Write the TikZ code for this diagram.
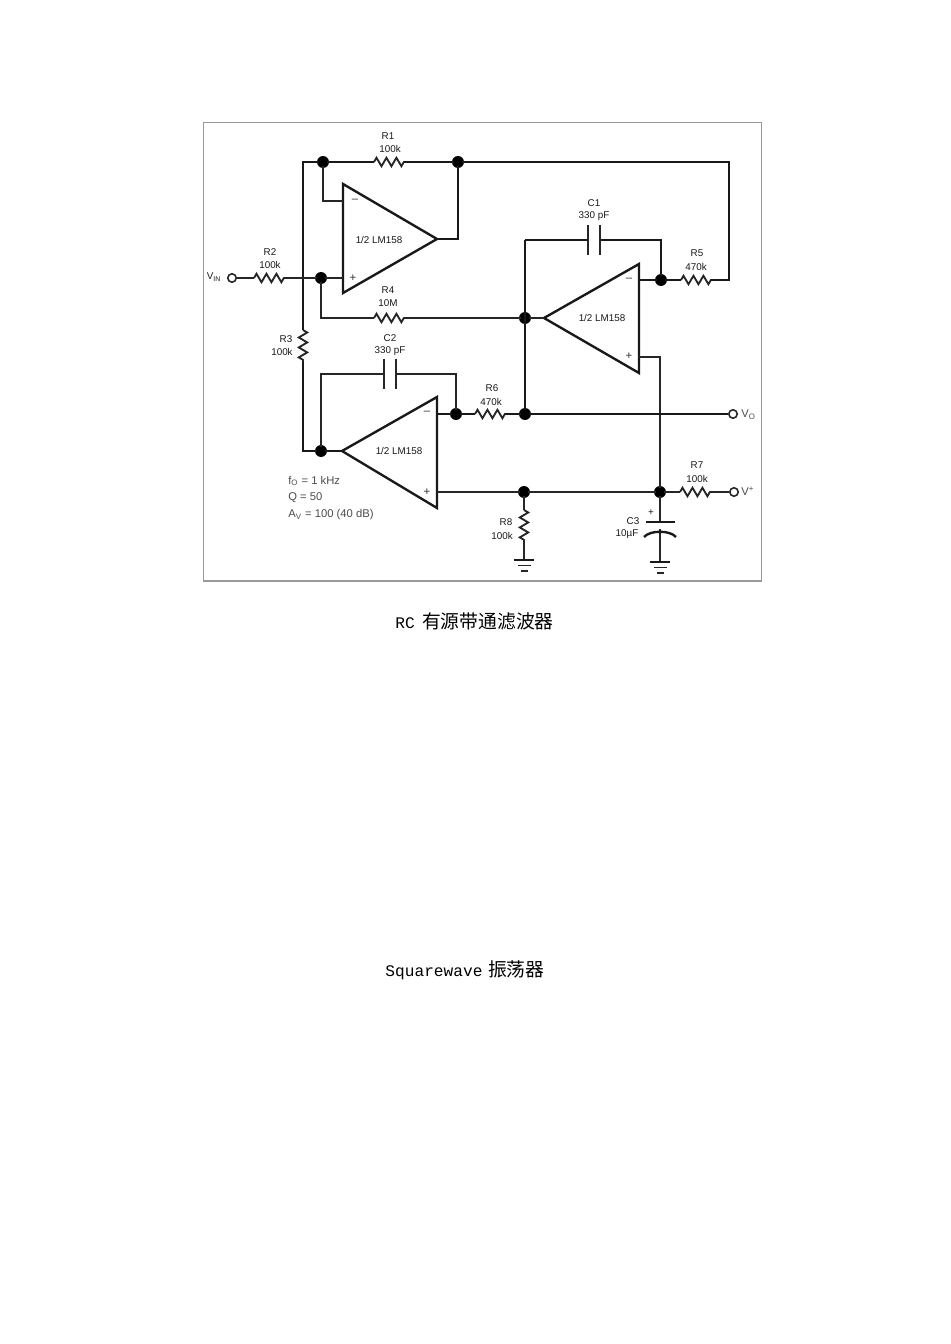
\documentclass[tikz,border=0pt]{standalone}
\usepackage{fontspec}
\setmainfont{Liberation Sans}
\newfontfamily\capfont{Liberation Mono}
\newfontfamily\cjk{Noto Sans CJK SC}
\usetikzlibrary{decorations.pathmorphing}
\tikzset{
  wire/.style={line width=1.05pt,black!85},
  heavy/.style={line width=1.35pt,black!90},
  opamp/.style={line width=1.35pt,black!90,line join=miter},
  res/.style={line width=1.05pt,black!85,decorate,decoration={zigzag,segment length=5.67pt,amplitude=2.4pt}},
  dot/.style={circle,fill=black,inner sep=0pt,outer sep=-1.2pt,minimum size=6.8pt},
  term/.style={circle,draw=black!85,line width=0.9pt,fill=white,inner sep=0pt,minimum size=4.8pt},
  lbl/.style={font=\fontsize{5.6}{6}\selectfont,text=black!90,inner sep=0pt},
  note/.style={font=\fontsize{6.4}{7}\selectfont,text=black!70,inner sep=0pt,anchor=west},
  sign/.style={font=\fontsize{6.5}{7}\selectfont,text=black!80,inner sep=0pt},
}
\begin{document}
\begin{tikzpicture}[x=0.02cm,y=-0.02cm]
\useasboundingbox (0,0) rectangle (950,1344);
\fill[white] (0,0) rectangle (950,1344);
\draw[black!40,line width=0.6pt] (203.5,122.5) rectangle (761.5,581);
% junctions and terminals
\foreach \n/\x/\y in {Ja/323/162,Jb/458/162,Jc/321/278,Jd/525/318,Je/661/280,Jf/321/451,Jg/456/414,Jh/525/414,Ji/524/492,Jj/660/492}
\node[dot] (\n) at (\x,\y) {};
\foreach \n/\x/\y in {Vin/232/278,Vo/733/414,Vp/734/492}
\node[term] (\n) at (\x,\y) {};
% op amp corners, then resistor and capacitor ends
\foreach \n/\x/\y in {Aa/343/184,Ab/343/293,Ac/437/239,Ba/639/264,Bb/639/373,Bc/544/318,Ca/437/397,Cb/437/508,Cc/342/451,
Am/343/201,Ap/343/278,Bm/639/280,Bp/639/357,Cm/437/414,Cp/437/492,
Raa/374/162,Rab/404/162,Rba/254/278,Rbb/284/278,Rca/303/330,Rcb/303/362,Rda/374/318,Rdb/404/318,
Rea/681/280,Reb/711/280,Rfa/475/414,Rfb/505/414,Rga/680/492,Rgb/710/492,Rha/524/510,Rhb/524/542,
Pa/588/240,Pb/600/240,Qa/384/374,Qb/396/374,Ta/303/162,Tb/303/451,Tc/729/162,Td/729/280,Te/525/240,Tf/661/240,
Tg/321/374,Th/456/374,Ti/458/239,Tj/660/357,Tk/321/318,Tl/323/201,Gb/524/560,Gc/660/562,Sa/660/522,Sb/660/529}
\coordinate (\n) at (\x,\y);
% op amps
\draw[opamp] (Aa) -- (Ab) -- (Ac) -- cycle;
\draw[opamp] (Ba) -- (Bb) -- (Bc) -- cycle;
\draw[opamp] (Ca) -- (Cb) -- (Cc) -- cycle;
% resistors
\foreach \a/\b in {Raa/Rab,Rba/Rbb,Rca/Rcb,Rda/Rdb,Rea/Reb,Rfa/Rfb,Rga/Rgb,Rha/Rhb}
\draw[res] (\a) -- (\b);
% wiring
\draw[heavy] (Rca) -- (Ta) -- (Ja) -- (Raa);
\draw[heavy] (Rab) -- (Jb) -- (Tc) -- (Td) -- (Reb);
\draw[wire] (Ja) -- (Tl) -- (Am);
\draw[heavy] (Jb) -- (Ti) -- (Ac);
\draw[wire] (Vin) -- (Rba);
\draw[wire] (Rbb) -- (Jc) -- (Ap);
\draw[wire] (Jc) -- (Tk) -- (Rda);
\draw[wire] (Rdb) -- (Jd) -- (Bc);
\draw[heavy] (Te) -- (Jh);
\draw[heavy] (Te) -- (Pa);
\draw[heavy] (Pb) -- (Tf) -- (Je);
\draw[heavy] (Bm) -- (Je) -- (Rea);
\draw[wire] (Bp) -- (Tj) -- (Jj);
\draw[heavy] (Rcb) -- (Tb) -- (Jf) -- (Cc);
\draw[wire] (Jf) -- (Tg) -- (Qa);
\draw[wire] (Qb) -- (Th) -- (Jg);
\draw[heavy] (Cm) -- (Jg) -- (Rfa);
\draw[heavy] (Rfb) -- (Jh) -- (Vo);
\draw[wire] (Cp) -- (Ji) -- (Jj) -- (Rga);
\draw[wire] (Rgb) -- (Vp);
\draw[wire] (Ji) -- (Rha);
\draw[wire] (Rhb) -- (Gb);
\draw[wire] (Jj) -- (Sa);
\draw[wire] (Sb) -- (Gc);
% capacitor plates
\foreach \a in {Pa,Pb,Qa,Qb}
\draw[wire] ([yshift=0.31cm]\a) -- ([yshift=-0.31cm]\a);
\draw[heavy] (646,522) -- (675,522);
\draw[heavy] (644,537) .. controls (650,530) and (670,530) .. (676,537);
% grounds
\foreach \g in {Gb,Gc}{
\draw[heavy] ([xshift=-0.2cm]\g) -- ([xshift=0.2cm]\g);
\draw[wire] ([xshift=-0.13cm,yshift=-0.11cm]\g) -- ([xshift=0.13cm,yshift=-0.11cm]\g);
\draw[wire] ([xshift=-0.07cm,yshift=-0.22cm]\g) -- ([xshift=0.07cm,yshift=-0.22cm]\g);
}
% labels
\foreach \n/\x/\y/\t in {la/388/136/R1,lb/390/149/100k,lc/270/252/R2,ld/270/265/100k,le/388/290/R4,lf/388/303/10M,
lg/286/339/R3,lh/282/352/100k,li/390/338/C2,lj/390/351/330 pF,lk/594/203/C1,ll/594/216/330 pF,lm/697/253/R5,ln/696/267/470k,
lo/492/388/R6,lp/491/402/470k,lq/697/465/R7,lr/697/479/100k,ls/506/522/R8,lt/502/536/100k,lu/633/521/C3,lv/627/534/10µF}
\node[lbl] (\n) at (\x,\y) {\t};
\foreach \n/\x/\y in {oa/379/240,ob/602/318,oc/399/451}
\node[lbl] (\n) at (\x,\y) {1/2 LM158};
\foreach \n/\x/\y/\t in {sa/355/201/--,sb/353/278/+,sc/629/280/--,sd/629/356/+,se/427/413/--,sf/427/492/+}
\node[sign] (\n) at (\x,\y) {\t};
\node[lbl] (c3p) at (651,513) {+};
\node[lbl] (vin) at (214,277) {V\textsubscript{IN}};
\node[note] (vo) at (741,415) {V\textsubscript{O}};
\node[note] (vp) at (741,491) {V\textsuperscript{+}};
\node[note] (fo) at (288,481) {f\textsubscript{O} = 1 kHz};
\node[note] (qq) at (288,498) {Q = 50};
\node[note] (av) at (288,515) {A\textsubscript{V} = 100 (40 dB)};
% captions
\node[inner sep=0pt,font=\fontsize{9.2}{11}\selectfont] (capa) at (474.5,621) {\capfont RC\hspace{0.45em}{\cjk\fontsize{10.7}{11}\selectfont 有源带通滤波器}};
\node[inner sep=0pt,font=\fontsize{9.2}{11}\selectfont] (capb) at (465,970) {\capfont Squarewave\hspace{0.35em}{\cjk\fontsize{10.7}{11}\selectfont 振荡器}};
\end{tikzpicture}
\end{document}
